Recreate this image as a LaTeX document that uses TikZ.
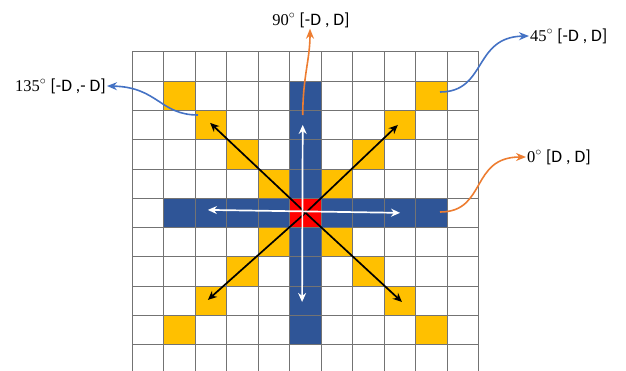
\documentclass[tikz,border=0pt]{standalone}
\usepackage{fontspec}
\setmainfont{Liberation Serif}
\newfontfamily\lblfont{Carlito}
\usetikzlibrary{arrows.meta}
\definecolor{cellblue}{RGB}{47,85,151}
\definecolor{cellyellow}{RGB}{255,192,0}
\definecolor{cellred}{RGB}{255,0,0}
\definecolor{curveorange}{RGB}{237,125,49}
\definecolor{curveblue}{RGB}{68,114,196}
\tikzset{
  gridline/.style={draw=black!55, line width=0.7pt},
  blackarr/.style={-{Stealth[length=9pt,width=8pt]}, line width=1.7pt, black},
  whitearr/.style={{Stealth[length=9pt,width=8pt]}-{Stealth[length=9pt,width=8pt]}, line width=1.7pt, white},
  orangecurve/.style={-{Stealth[length=10pt,width=8pt]}, line width=1.6pt, curveorange},
  bluecurve/.style={-{Stealth[length=10pt,width=8pt]}, line width=1.6pt, curveblue},
  anglelabel/.style={font=\fontsize{16.5}{19}\selectfont, inner sep=1pt}
}
\newcommand{\anglelab}[2]{#1${}^{\circ}$ {\lblfont\fontsize{17.5}{20}\selectfont[#2]}}

\begin{document}
\begin{tikzpicture}[x=1pt, y=-1pt]
  \useasboundingbox (0,0) rectangle (626,370);
  \clip (0,0) rectangle (626,370);

  \begin{scope}[shift={(132.3,51.7)}, x=31.5pt, y=-29.3pt]
    % coloured cells
    \foreach \i in {1,2,3,4,6,7,8,9} {
      \fill[cellyellow] (\i,\i) rectangle ++(1,1);
      \fill[cellyellow] (10-\i,\i) rectangle ++(1,1);
      \fill[cellblue] (5,\i) rectangle ++(1,1);
      \fill[cellblue] (\i,5) rectangle ++(1,1);
    }
    \fill[cellred] (5,5) rectangle ++(1,1);

    % grid
    \foreach \k in {0,...,11} {
      \draw[gridline] (\k,0) -- (\k,11);
      \draw[gridline] (0,\k) -- (11,\k);
    }

    \coordinate (ctr) at (5.5,5.5);
    \coordinate (nw) at (2.47,2.43);
    \coordinate (ne) at (8.43,2.5);
    \coordinate (sw) at (2.4,8.47);
    \coordinate (se) at (8.56,8.54);
    \coordinate (wl) at (2.4,5.4);
    \coordinate (er) at (8.5,5.5);
    \coordinate (nt) at (5.41,2.5);
    \coordinate (sb) at (5.39,8.54);
  \end{scope}

  % diagonal directions
  \foreach \t in {nw,ne,sw,se}
    \draw[blackarr] (ctr) -- (\t);
  % horizontal and vertical directions
  \draw[whitearr] (wl) -- (er);
  \draw[whitearr] (nt) -- (sb);

  % labels
  \node[anglelabel] (l90) at (311,20) {\anglelab{90}{-D , D}};
  \node[anglelabel, anchor=west] (l45) at (529,36) {\anglelab{45}{-D , D}};
  \node[anglelabel, anchor=east] (l135) at (107,86) {\anglelab{135}{-D ,- D}};
  \node[anglelabel, anchor=west] (l0) at (526,157) {\anglelab{0}{D , D}};

  \coordinate (s90) at (302.7,115);
  \coordinate (s45) at (440,92);
  \coordinate (s135) at (198,115);
  \coordinate (s0) at (440,212);

  \draw[orangecurve] (s90) .. controls (303,75) and (310,60) .. (l90.south -| 310,0);
  \draw[bluecurve] (s45) .. controls (487,92) and (473,37) .. (l45.west);
  \draw[bluecurve] (s135) .. controls (160,115) and (158,87) .. (l135.east);
  \draw[orangecurve] (s0) .. controls (487,212) and (470,157) .. (l0.west);
\end{tikzpicture}
\end{document}
